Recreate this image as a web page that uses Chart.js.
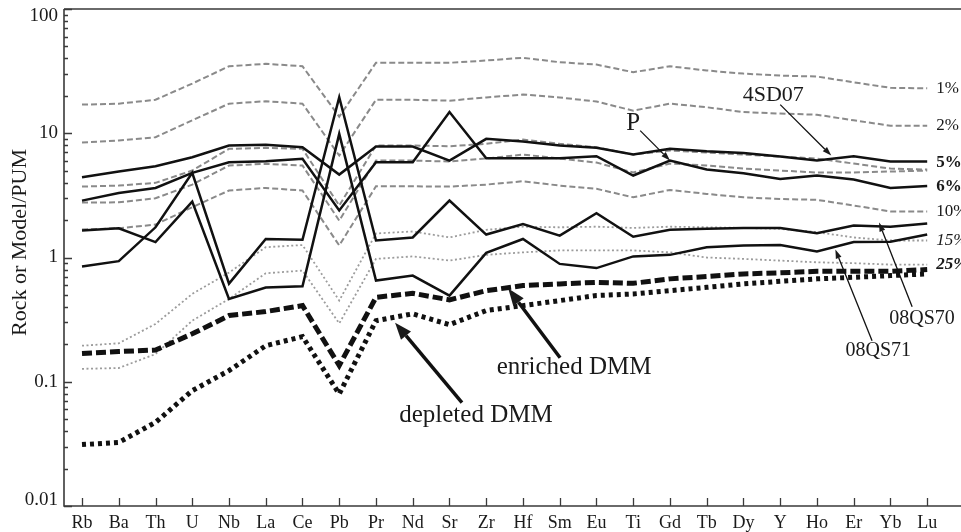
<!DOCTYPE html>
<html><head><meta charset="utf-8">
<script src="https://cdn.jsdelivr.net/npm/chart.js@4.4.0/dist/chart.umd.min.js"></script>
<style>html,body{margin:0;padding:0;background:#fff}#wrap{width:961px;height:532px;position:relative}</style>
</head><body><div id="wrap"><canvas id="c"></canvas></div>
<script>
const categories = ['Rb','Ba','Th','U','Nb','La','Ce','Pb','Pr','Nd','Sr','Zr','Hf','Sm','Eu','Ti','Gd','Tb','Dy','Y','Ho','Er','Yb','Lu'];
const yTickValues = [100, 10, 1, 0.1, 0.01];
const yTickLabels = ['100', '10', '1', '0.1', '0.01'];

// model melts (gray)
const melt1  = [17.0,17.3,18.6,25.1,34.6,36.2,34.6,13.6,36.9,36.9,36.9,38.5,40.5,37.3,35.7,31.0,34.6,32.0,30.2,29.1,28.6,25.7,23.2,23.0];
const melt2  = [8.41,8.73,9.29,12.7,17.3,18.1,17.3,6.61,18.6,18.6,18.3,19.4,20.5,19.4,18.0,15.2,17.3,16.2,14.8,14.4,14.1,12.7,11.5,11.5];
const melt5  = [3.72,3.79,3.99,5.01,7.49,7.63,7.49,2.62,7.96,7.96,7.86,8.22,8.90,8.22,7.71,6.74,7.26,6.99,6.74,6.49,6.26,5.70,5.20,5.10];
const melt6  = [2.77,2.78,3.00,3.86,5.50,5.67,5.50,1.98,6.03,6.03,5.92,6.26,6.74,6.26,5.81,4.83,5.70,5.50,5.20,5.01,4.83,4.83,4.92,5.01];
const melt10 = [1.68,1.72,1.84,2.54,3.46,3.63,3.46,1.25,3.74,3.74,3.72,3.86,4.11,3.79,3.57,3.05,3.50,3.25,3.05,2.96,2.91,2.62,2.35,2.35];
const melt15 = [0.195,0.204,0.292,0.509,0.756,1.21,1.26,0.450,1.56,1.62,1.45,1.67,1.77,1.75,1.77,1.73,1.77,1.75,1.73,1.70,1.60,1.45,1.37,1.37];
const melt25 = [0.127,0.129,0.167,0.310,0.464,0.746,0.785,0.295,0.975,1.02,0.944,1.05,1.10,1.14,1.14,1.14,1.10,1.00,0.974,0.944,0.915,0.90,0.877,0.877];
// mantle sources
const enrichedDMM = [0.169,0.175,0.180,0.243,0.341,0.367,0.410,0.135,0.478,0.515,0.456,0.541,0.594,0.613,0.631,0.62,0.673,0.702,0.738,0.752,0.774,0.774,0.774,0.799];
const depletedDMM = [0.0312,0.0325,0.0471,0.0848,0.123,0.195,0.231,0.0798,0.310,0.352,0.288,0.374,0.410,0.450,0.494,0.509,0.541,0.575,0.613,0.643,0.673,0.693,0.715,0.738];
// rock samples
const s4SD07  = [4.42,4.92,5.42,6.41,7.96,8.07,7.71,4.65,7.81,7.81,6.03,9.01,8.57,7.96,7.63,6.74,7.49,7.16,6.95,6.49,6.03,6.53,5.92,5.92];
const sP      = [2.87,3.31,3.63,4.80,5.84,5.95,6.22,2.39,5.84,5.84,14.8,6.29,6.29,6.29,6.53,4.57,6.03,5.10,4.76,4.29,4.57,4.24,3.63,3.77];
const s08QS70 = [0.845,0.935,1.75,4.80,0.616,1.41,1.39,19.5,1.37,1.45,2.87,1.53,1.86,1.50,2.27,1.47,1.67,1.70,1.73,1.73,1.57,1.81,1.77,1.88];
const s08QS71 = [1.65,1.72,1.33,2.82,0.464,0.573,0.586,9.89,0.652,0.715,0.494,1.09,1.41,0.888,0.822,1.02,1.05,1.21,1.25,1.26,1.12,1.33,1.34,1.53];

const meltNames = ['1%','2%','5%','6%','10%','15%','25%'];
const meltLabelValues = [melt1[23], melt2[23], 5.8, 3.72, melt10[23], melt15[23], melt25[23]];
const meltLabelFonts = ['', '', 'bold ', 'bold ', '', 'italic ', 'italic bold '];

const SERIF = '"Liberation Serif", "DejaVu Serif", serif';
const toXY = arr => arr.map((v, i) => ({x: i, y: v}));

const GRAY_DASH = '#8a8a8a', GRAY_DOT = '#9c9c9c', BLACK = '#111';
const datasets = [
  {label:'4SD07', data: toXY(s4SD07), borderColor: BLACK, borderWidth: 2.5, order: 1},
  {label:'P', data: toXY(sP), borderColor: BLACK, borderWidth: 2.5, order: 1},
  {label:'08QS70', data: toXY(s08QS70), borderColor: BLACK, borderWidth: 2.5, order: 1},
  {label:'08QS71', data: toXY(s08QS71), borderColor: BLACK, borderWidth: 2.5, order: 1},
  {label:'enriched DMM', data: toXY(enrichedDMM), borderColor: BLACK, borderWidth: 5, borderDash: [10,4], order: 2},
  {label:'depleted DMM', data: toXY(depletedDMM), borderColor: BLACK, borderWidth: 5, borderDash: [4,4], order: 2},
  {label:'1%', data: toXY(melt1), borderColor: GRAY_DASH, borderWidth: 2, borderDash: [6,3], order: 3},
  {label:'2%', data: toXY(melt2), borderColor: GRAY_DASH, borderWidth: 2, borderDash: [6,3], order: 3},
  {label:'5%', data: toXY(melt5), borderColor: GRAY_DASH, borderWidth: 2, borderDash: [6,3], order: 3},
  {label:'6%', data: toXY(melt6), borderColor: GRAY_DASH, borderWidth: 2, borderDash: [6,3], order: 3},
  {label:'10%', data: toXY(melt10), borderColor: GRAY_DASH, borderWidth: 2, borderDash: [6,3], order: 3},
  {label:'15%', data: toXY(melt15), borderColor: GRAY_DOT, borderWidth: 1.8, borderDash: [2,2.5], order: 3},
  {label:'25%', data: toXY(melt25), borderColor: GRAY_DOT, borderWidth: 1.8, borderDash: [2,2.5], order: 3}
];

const notes = [
  {text:'4SD07', at:[18.81, 20.1], size:22, from:[19.0, 17.0], to:[20.39, 6.61], lw:1.3, head:[9,6]},
  {text:'P', at:[15.0, 12.0], size:25, from:[15.19, 10.5], to:[16, sP[16]], lw:1.3, head:[9,6]},
  {text:'08QS70', at:[22.86, 0.322], size:20, from:[22.59, 0.402], to:[21.69, 1.91], lw:1.3, head:[9,6]},
  {text:'08QS71', at:[21.67, 0.178], size:20, from:[21.5, 0.214], to:[20.5, 1.16], lw:1.3, head:[9,6]},
  {text:'enriched DMM', at:[13.39, 0.130], size:25, from:[13.01, 0.156], to:[11.6, 0.562], lw:3.5, head:[17,13]},
  {text:'depleted DMM', at:[10.72, 0.0533], size:25, from:[10.34, 0.0679], to:[8.52, 0.299], lw:3.5, head:[17,13]}
];

function arrow(ctx, x1, y1, x2, y2, lw, hl, hw) {
  const ang = Math.atan2(y2 - y1, x2 - x1);
  const bx = x2 - hl * Math.cos(ang), by = y2 - hl * Math.sin(ang);
  ctx.lineWidth = lw;
  ctx.beginPath(); ctx.moveTo(x1, y1); ctx.lineTo(bx, by); ctx.stroke();
  ctx.beginPath(); ctx.moveTo(x2, y2);
  ctx.lineTo(bx + hw / 2 * Math.sin(ang), by - hw / 2 * Math.cos(ang));
  ctx.lineTo(bx - hw / 2 * Math.sin(ang), by + hw / 2 * Math.cos(ang));
  ctx.closePath(); ctx.fill();
}

const deco = {
  id: 'deco',
  beforeDatasetsDraw(chart) {
    const {ctx, chartArea: a, scales: {x, y}} = chart;
    ctx.save();
    ctx.strokeStyle = '#3a3a3a'; ctx.lineWidth = 1.6;
    ctx.beginPath();
    ctx.moveTo(a.left, a.top); ctx.lineTo(a.right, a.top);
    ctx.moveTo(a.left, a.top); ctx.lineTo(a.left, a.bottom); ctx.lineTo(a.right, a.bottom);
    ctx.stroke();
    ctx.lineWidth = 1.3;
    ctx.beginPath();
    for (let e = -2; e <= 2; e++) {
      for (let m = 1; m <= 9; m++) {
        const v = m * Math.pow(10, e);
        if (v > 100.0001) break;
        const py = Math.round(y.getPixelForValue(v)) + 0.5;
        const len = m === 1 ? 8 : 4;
        ctx.moveTo(a.left, py); ctx.lineTo(a.left + len, py);
      }
    }
    categories.forEach((c, i) => {
      const px = Math.round(x.getPixelForValue(i)) + 0.5;
      ctx.moveTo(px, a.bottom); ctx.lineTo(px, a.bottom - 8);
    });
    ctx.stroke();
    ctx.restore();
  },
  afterDatasetsDraw(chart) {
    const {ctx, chartArea: a, scales: {x, y}} = chart;
    ctx.save();
    ctx.fillStyle = '#1a1a1a'; ctx.strokeStyle = '#111';
    // y tick labels
    ctx.font = '19px ' + SERIF; ctx.textAlign = 'right'; ctx.textBaseline = 'middle';
    yTickValues.forEach((v, i) => {
      let py = y.getPixelForValue(v);
      py = Math.min(Math.max(py, a.top + 7), a.bottom - 6);
      ctx.fillText(yTickLabels[i], a.left - 6, py);
    });
    // y title
    ctx.save();
    ctx.translate(20, (a.top + a.bottom) / 2 - 15);
    ctx.rotate(-Math.PI / 2);
    ctx.textAlign = 'center'; ctx.font = '22px ' + SERIF;
    ctx.fillText('Rock or Model/PUM', 0, 0);
    ctx.restore();
    // melt labels at right
    ctx.textAlign = 'left';
    meltNames.forEach((t, i) => {
      ctx.font = meltLabelFonts[i] + '17px ' + SERIF;
      ctx.fillText(t, x.getPixelForValue(23) + 9, y.getPixelForValue(meltLabelValues[i]));
    });
    // annotations
    notes.forEach(n => {
      ctx.font = n.size + 'px ' + SERIF; ctx.textAlign = 'center';
      ctx.fillText(n.text, x.getPixelForValue(n.at[0]), y.getPixelForValue(n.at[1]));
      arrow(ctx, x.getPixelForValue(n.from[0]), y.getPixelForValue(n.from[1]),
            x.getPixelForValue(n.to[0]), y.getPixelForValue(n.to[1]), n.lw, n.head[0], n.head[1]);
    });
    ctx.restore();
  }
};

new Chart(document.getElementById('c'), {
  type: 'line',
  data: {datasets},
  options: {
    responsive: true, maintainAspectRatio: false, animation: false, devicePixelRatio: 1,
    layout: {padding: {top: 9, left: 0, right: 0, bottom: 0}},
    plugins: {legend: {display: false}, tooltip: {enabled: false}},
    elements: {point: {radius: 0}, line: {tension: 0, borderCapStyle: 'butt', borderJoinStyle: 'miter', fill: false}},
    scales: {
      x: {
        type: 'linear', min: -0.49, max: 23.92,
        grid: {display: false, drawTicks: false}, border: {display: false},
        afterBuildTicks: s => { s.ticks = categories.map((c, i) => ({value: i})); },
        afterFit: s => { s.height = 26; },
        ticks: {autoSkip: false, maxRotation: 0, minRotation: 0, padding: 6, color: '#1a1a1a',
                font: {family: SERIF, size: 18}, callback: v => categories[v]}
      },
      y: {
        type: 'logarithmic', min: 0.01, max: 100,
        grid: {display: false, drawTicks: false}, border: {display: false},
        ticks: {display: false},
        afterFit: s => { s.width = 64; }
      }
    }
  },
  plugins: [deco]
});
</script>
</body></html>
